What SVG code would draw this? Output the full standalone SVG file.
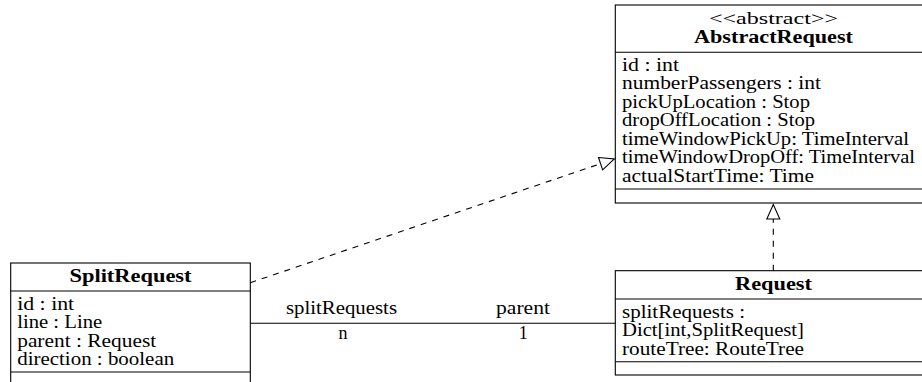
<svg xmlns="http://www.w3.org/2000/svg" width="922" height="382" viewBox="0 0 922 382">
  <style>
    .box { fill: #fff; stroke: #000; stroke-width: 1.1; }
    .sep { stroke: #000; stroke-width: 1.1; }
    .t { font-family: "Liberation Serif", "DejaVu Serif", serif; font-size: 18px; fill: #000; }
    .b { font-weight: bold; }
    .c { text-anchor: middle; }
    .s { font-size: 16px; }
    .edge { stroke: #000; stroke-width: 1.1; fill: none; }
    .dash { stroke-dasharray: 6 6; }
  </style>
  <defs>
    <!-- hollow triangle head for realization / inheritance -->
    <marker id="hollow" markerUnits="userSpaceOnUse" markerWidth="18" markerHeight="16"
            refX="14.5" refY="6.5" orient="auto" overflow="visible">
      <path d="M0,0 L14.5,6.5 L0,13 Z" fill="#fff" stroke="#000" stroke-width="1.1"/>
    </marker>
  </defs>

  <rect width="922" height="382" fill="#fff"/>

  <!-- abstract base class -->
  <g id="abstract-request">
    <rect class="box" x="615.3" y="5" width="316.4" height="198"/>
    <line class="sep" x1="615.3" y1="52.3" x2="931.7" y2="52.3"/>
    <line class="sep" x1="615.3" y1="189" x2="931.7" y2="189"/>
    <text class="t s c" x="773.5" y="23.8" textLength="129" lengthAdjust="spacingAndGlyphs">&lt;&lt;abstract&gt;&gt;</text>
    <text class="t b c" x="773.5" y="43.4" textLength="159" lengthAdjust="spacingAndGlyphs">AbstractRequest</text>
    <text class="t" x="622" y="71" textLength="57" lengthAdjust="spacingAndGlyphs">id : int</text>
    <text class="t" x="622" y="89.4" textLength="199" lengthAdjust="spacingAndGlyphs">numberPassengers : int</text>
    <text class="t" x="622" y="107.8" textLength="188" lengthAdjust="spacingAndGlyphs">pickUpLocation : Stop</text>
    <text class="t" x="622" y="126.2" textLength="193" lengthAdjust="spacingAndGlyphs">dropOffLocation : Stop</text>
    <text class="t" x="622" y="144.6" textLength="287" lengthAdjust="spacingAndGlyphs">timeWindowPickUp: TimeInterval</text>
    <text class="t" x="622" y="163" textLength="293" lengthAdjust="spacingAndGlyphs">timeWindowDropOff: TimeInterval</text>
    <text class="t" x="622" y="181.6" textLength="192" lengthAdjust="spacingAndGlyphs">actualStartTime: Time</text>
  </g>

  <!-- split request class -->
  <g id="split-request">
    <rect class="box" x="10.7" y="263" width="239.6" height="140"/>
    <line class="sep" x1="10.7" y1="291" x2="250.3" y2="291"/>
    <line class="sep" x1="10.7" y1="372" x2="250.3" y2="372"/>
    <text class="t b c" x="130.5" y="281.7" textLength="122" lengthAdjust="spacingAndGlyphs">SplitRequest</text>
    <text class="t" x="17.2" y="310" textLength="57" lengthAdjust="spacingAndGlyphs">id : int</text>
    <text class="t" x="17.2" y="328.4" textLength="85" lengthAdjust="spacingAndGlyphs">line : Line</text>
    <text class="t" x="17.2" y="346.8" textLength="139" lengthAdjust="spacingAndGlyphs">parent : Request</text>
    <text class="t" x="17.2" y="365.2" textLength="157" lengthAdjust="spacingAndGlyphs">direction : boolean</text>
  </g>

  <!-- concrete request class -->
  <g id="request">
    <rect class="box" x="615.3" y="270.7" width="316.4" height="104.3"/>
    <line class="sep" x1="615.3" y1="299" x2="931.7" y2="299"/>
    <line class="sep" x1="615.3" y1="361.7" x2="931.7" y2="361.7"/>
    <text class="t b c" x="773.5" y="290" textLength="77" lengthAdjust="spacingAndGlyphs">Request</text>
    <text class="t" x="622" y="318" textLength="123" lengthAdjust="spacingAndGlyphs">splitRequests :</text>
    <text class="t" x="622" y="336.4" textLength="182" lengthAdjust="spacingAndGlyphs">Dict[int,SplitRequest]</text>
    <text class="t" x="622" y="354.8" textLength="182" lengthAdjust="spacingAndGlyphs">routeTree: RouteTree</text>
  </g>

  <!-- relations -->
  <g id="connectors">
    <line class="edge dash" x1="250.3" y1="282.7" x2="614.3" y2="159" marker-end="url(#hollow)"/>
    <line class="edge dash" x1="773.3" y1="270.7" x2="773.3" y2="204.5" marker-end="url(#hollow)"/>
    <line class="edge" x1="250.3" y1="323.3" x2="615.3" y2="323.3"/>
    <text class="t c" x="341.5" y="314" textLength="111" lengthAdjust="spacingAndGlyphs">splitRequests</text>
    <text class="t c" x="523" y="314" textLength="54" lengthAdjust="spacingAndGlyphs">parent</text>
    <text class="t c" x="343" y="339.3">n</text>
    <text class="t c" x="523.3" y="339.3">1</text>
  </g>
</svg>
